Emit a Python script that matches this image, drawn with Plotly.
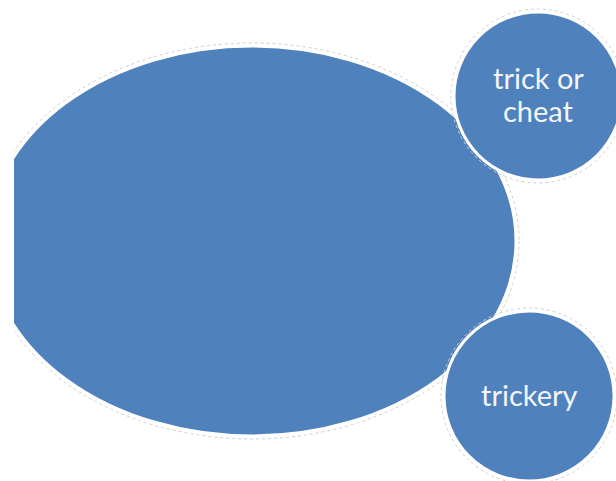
import plotly.graph_objects as go

# node labels (first node is the big unlabeled ellipse)
labels = ["", "trick or<br>cheat", "trickery"]
# centres and half-sizes, in pixel units of the picture
centre_x = [252, 538, 529]
centre_y = [241, 96, 396]
half_w = [264, 84, 85]
half_h = [195, 84, 85]

FILL = '#4f81bd'

fig = go.Figure()

for i, lab in enumerate(labels):
    cx, cy, rx, ry = centre_x[i], centre_y[i], half_w[i], half_h[i]
    # faint grey halo outside the white border
    fig.add_shape(type='circle', xref='x', yref='y',
                  x0=cx - rx - 3, x1=cx + rx + 3, y0=cy - ry - 3, y1=cy + ry + 3,
                  line={'color': '#cfcfcf', 'width': 1, 'dash': 'dot'},
                  fillcolor='rgba(0,0,0,0)')
    fig.add_shape(type='circle', xref='x', yref='y',
                  x0=cx - rx, x1=cx + rx, y0=cy - ry, y1=cy + ry,
                  line={'color': 'white', 'width': 3},
                  fillcolor=FILL)
    lines = lab.split('<br>') if lab else []
    n = len(lines)
    for k, txt in enumerate(lines):
        fig.add_annotation(x=cx, y=cy, xref='x', yref='y', text=txt,
                           showarrow=False, yshift=(n - 1) * 16.5 - k * 33 + 2,
                           font={'family': 'Lato', 'size': 29, 'color': '#f2f5fa'})

fig.update_layout(
    width=616, height=481,
    margin={'l': 14, 'r': 0, 't': 0, 'b': 0},
    paper_bgcolor='white', plot_bgcolor='white',
    showlegend=False,
    xaxis={'range': [14, 616], 'visible': False, 'fixedrange': True},
    yaxis={'range': [481, 0], 'visible': False, 'fixedrange': True},
)

# drop the page margin and scrollbars so the figure fills the window exactly
fig.write_html("out.html", config={'displayModeBar': False},
               post_script="document.body.style.margin='0';"
                           "document.body.style.overflow='hidden';")
